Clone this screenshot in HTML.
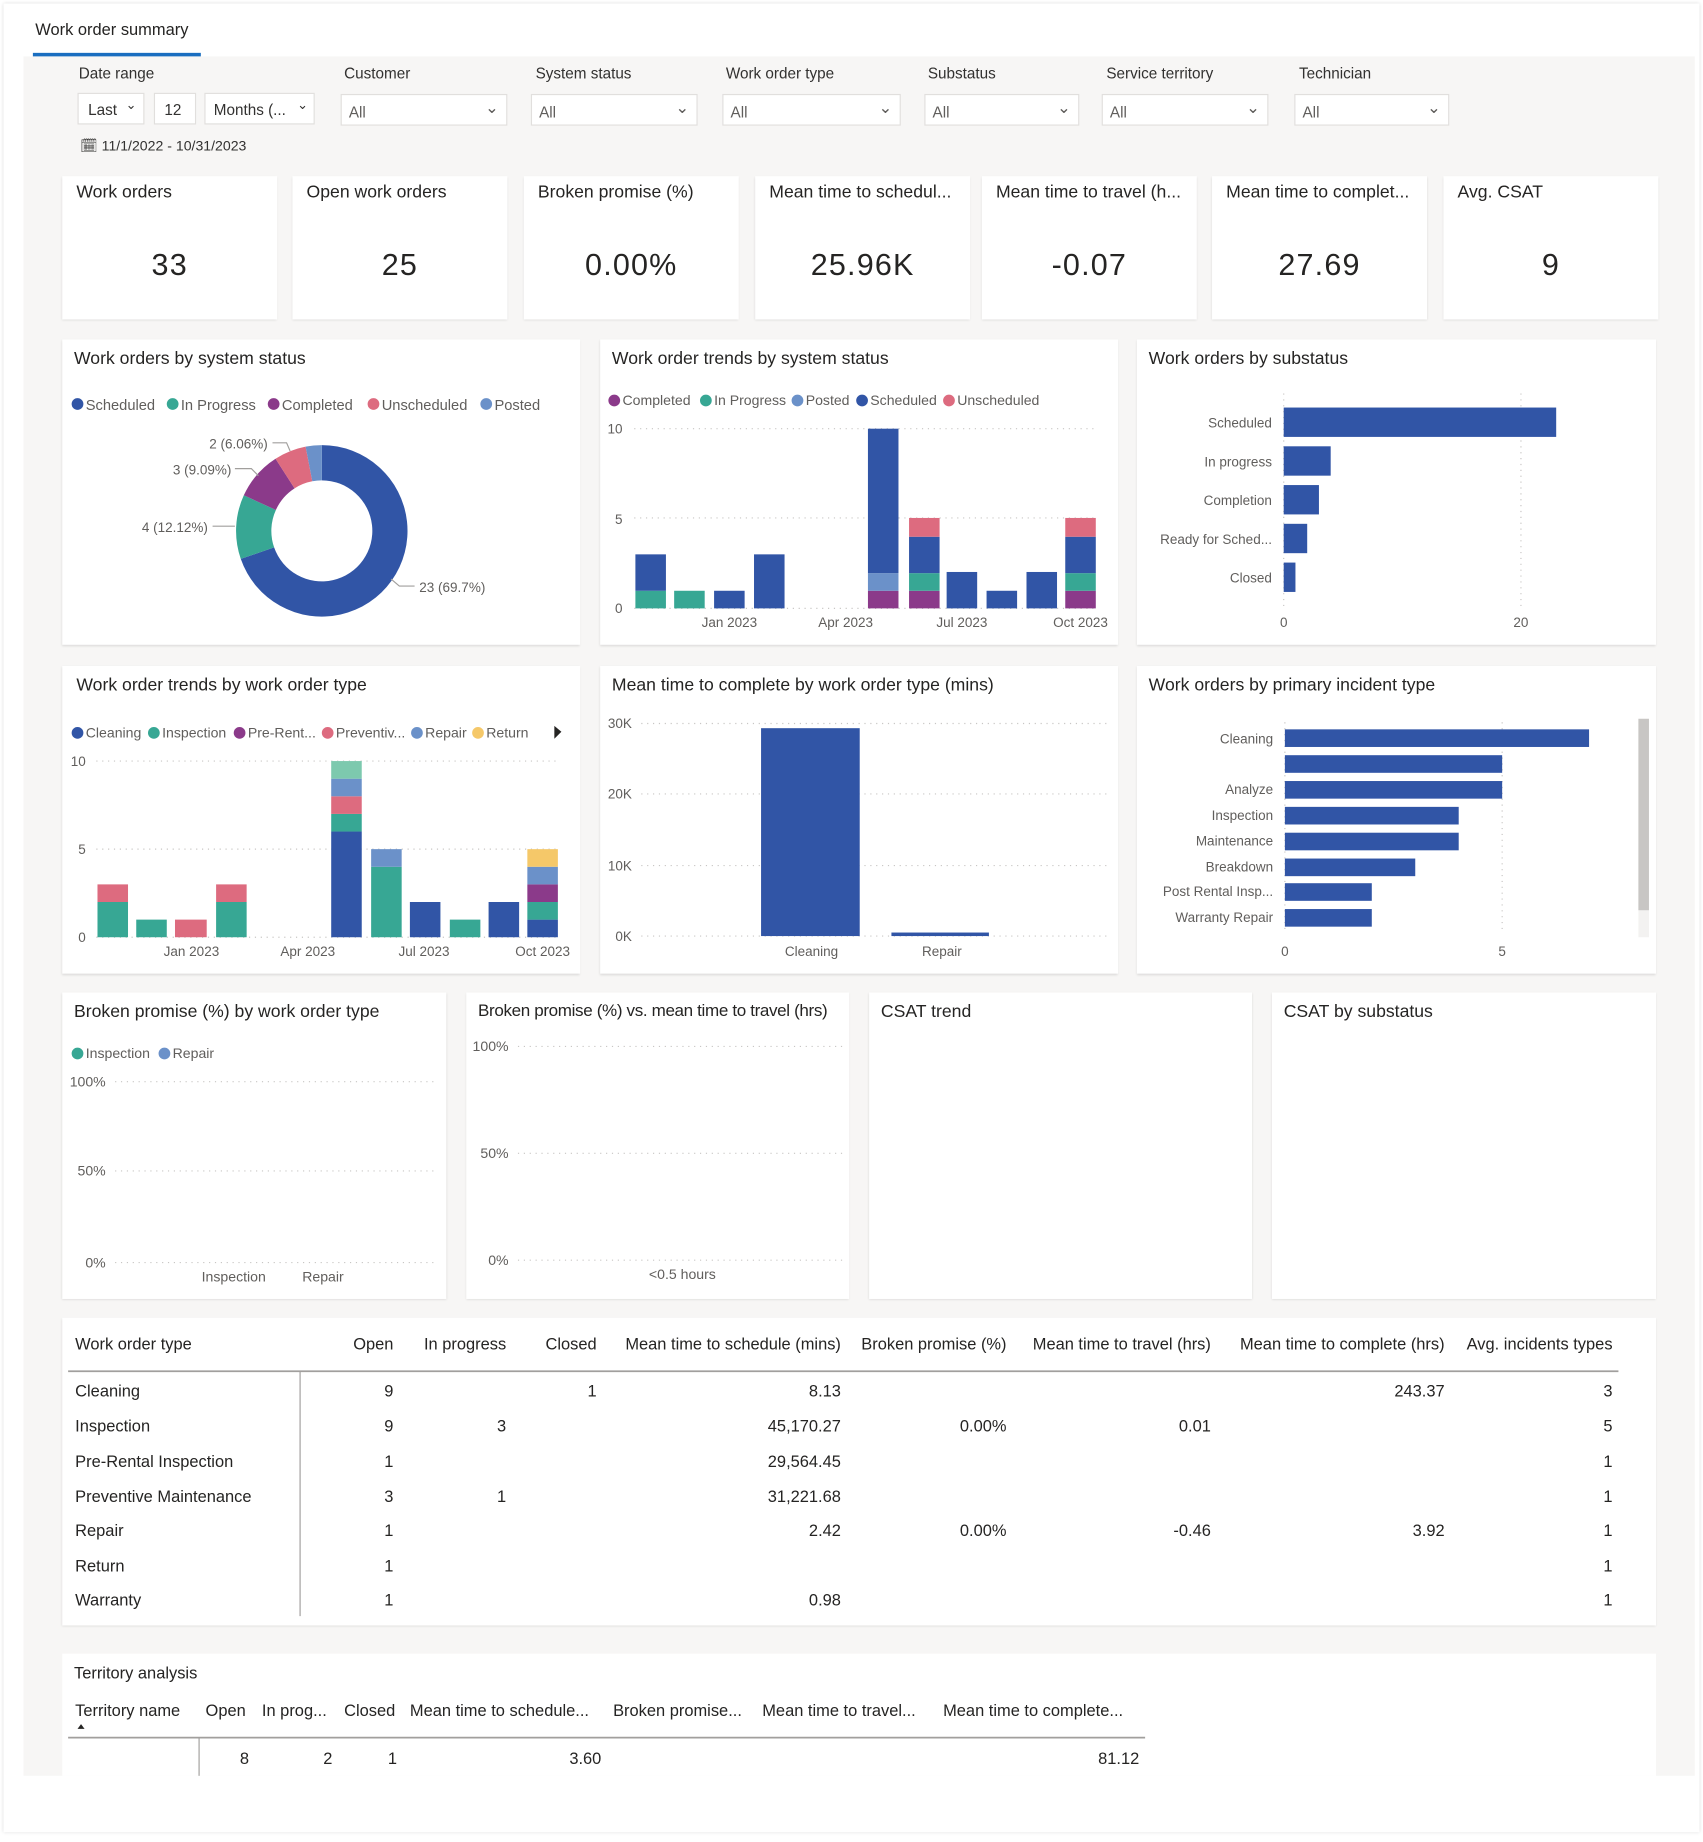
<!DOCTYPE html>
<html><head><meta charset="utf-8"><style>
html,body{margin:0;padding:0;width:1703px;height:1842px;overflow:hidden;background:#fff}
#w{position:absolute;left:0;top:0;width:1450px;height:1568px;transform:scale(1.17448);transform-origin:0 0;font-family:"Liberation Sans",sans-serif;color:#252423}
.a{position:absolute}
.card{position:absolute;background:#fff;box-shadow:0 1px 2px rgba(0,0,0,.12)}
.lab{position:absolute;font-size:13px;color:#323130}
.dd{position:absolute;height:27px;border:1px solid #e1dfdd;background:#fff;box-sizing:border-box;font-size:13px;color:#605e5c}
.kt{position:absolute;left:12px;top:5px;font-size:15px;color:#252423;white-space:nowrap}
.kv{position:absolute;left:0;right:0;top:60px;text-align:center;font-size:26px;color:#252423;letter-spacing:1px}
.ct{position:absolute;left:10px;top:8px;font-size:15px;color:#252423;white-space:nowrap}
</style></head><body><div id="w">
<div class="a" style="left:3px;top:3px;width:1444px;height:1557px;box-shadow:0 0 3px rgba(0,0,0,.15);background:#fff"></div>
<div class="a" style="left:20px;top:48px;width:1423px;height:1464px;background:#f7f6f5"></div>
<div class="a" style="left:30px;top:17px;font-size:14px;color:#252423">Work order summary</div>
<div class="a" style="left:28px;top:45px;width:143px;height:3px;background:#1a6ec0"></div>

<div class="lab" style="left:67px;top:55px">Date range</div>
<div class="dd" style="left:66px;top:79px;width:57px;color:#323130"><span class="a" style="left:8px;top:6px">Last</span><span class="a" style="left:40px;top:3px;font-size:11px">&#8964;</span></div>
<div class="dd" style="left:131px;top:79px;width:36px;color:#323130"><span class="a" style="left:8px;top:6px">12</span></div>
<div class="dd" style="left:174px;top:79px;width:94px;color:#323130"><span class="a" style="left:7px;top:6px">Months (...</span><span class="a" style="left:78px;top:3px;font-size:11px">&#8964;</span></div>
<div class="a" style="left:68px;top:117px;font-size:12px;color:#323130">&#128467; 11/1/2022 - 10/31/2023</div>

<div class="lab" style="left:293px;top:55px">Customer</div>
<div class="dd" style="left:290px;top:80px;width:142px"><span class="a" style="left:6px;top:7px">All</span><span class="a" style="left:122px;top:2px;font-size:14px">&#8964;</span></div>
<div class="lab" style="left:456px;top:55px">System status</div>
<div class="dd" style="left:452px;top:80px;width:142px"><span class="a" style="left:6px;top:7px">All</span><span class="a" style="left:122px;top:2px;font-size:14px">&#8964;</span></div>
<div class="lab" style="left:618px;top:55px">Work order type</div>
<div class="dd" style="left:615px;top:80px;width:152px"><span class="a" style="left:6px;top:7px">All</span><span class="a" style="left:132px;top:2px;font-size:14px">&#8964;</span></div>
<div class="lab" style="left:790px;top:55px">Substatus</div>
<div class="dd" style="left:787px;top:80px;width:132px"><span class="a" style="left:6px;top:7px">All</span><span class="a" style="left:112px;top:2px;font-size:14px">&#8964;</span></div>
<div class="lab" style="left:942px;top:55px">Service territory</div>
<div class="dd" style="left:938px;top:80px;width:142px"><span class="a" style="left:6px;top:7px">All</span><span class="a" style="left:122px;top:2px;font-size:14px">&#8964;</span></div>
<div class="lab" style="left:1106px;top:55px">Technician</div>
<div class="dd" style="left:1102px;top:80px;width:132px"><span class="a" style="left:6px;top:7px">All</span><span class="a" style="left:112px;top:2px;font-size:14px">&#8964;</span></div>

<div class="card" style="left:53px;top:150px;width:183px;height:122px"><div class="kt">Work orders</div><div class="kv">33</div></div>
<div class="card" style="left:249px;top:150px;width:183px;height:122px"><div class="kt">Open work orders</div><div class="kv">25</div></div>
<div class="card" style="left:446px;top:150px;width:183px;height:122px"><div class="kt">Broken promise (%)</div><div class="kv">0.00%</div></div>
<div class="card" style="left:643px;top:150px;width:183px;height:122px"><div class="kt">Mean time to schedul...</div><div class="kv">25.96K</div></div>
<div class="card" style="left:836px;top:150px;width:183px;height:122px"><div class="kt">Mean time to travel (h...</div><div class="kv">-0.07</div></div>
<div class="card" style="left:1032px;top:150px;width:183px;height:122px"><div class="kt">Mean time to complet...</div><div class="kv">27.69</div></div>
<div class="card" style="left:1229px;top:150px;width:183px;height:122px"><div class="kt">Avg. CSAT</div><div class="kv">9</div></div>

<div class="card" style="left:53px;top:289px;width:441px;height:260px"><div class="ct">Work orders by system status</div></div>
<div class="card" style="left:511px;top:289px;width:441px;height:260px"><div class="ct">Work order trends by system status</div></div>
<div class="card" style="left:968px;top:289px;width:442px;height:260px"><div class="ct">Work orders by substatus</div></div>
<div class="card" style="left:53px;top:567px;width:441px;height:262px"><div class="ct" style="left:12px">Work order trends by work order type</div></div>
<div class="card" style="left:511px;top:567px;width:441px;height:262px"><div class="ct">Mean time to complete by work order type (mins)</div></div>
<div class="card" style="left:968px;top:567px;width:442px;height:262px"><div class="ct">Work orders by primary incident type</div></div>
<div class="card" style="left:53px;top:845px;width:327px;height:261px"><div class="ct">Broken promise (%) by work order type</div></div>
<div class="card" style="left:397px;top:845px;width:326px;height:261px;overflow:hidden"><div class="ct" style="font-size:14.5px;letter-spacing:-0.3px">Broken promise (%) vs. mean time to travel (hrs)</div></div>
<div class="card" style="left:740px;top:845px;width:326px;height:261px"><div class="ct">CSAT trend</div></div>
<div class="card" style="left:1083px;top:845px;width:327px;height:261px"><div class="ct">CSAT by substatus</div></div>
<div class="card" style="left:53px;top:1122px;width:1357px;height:262px"></div>
<div class="card" style="left:53px;top:1408px;width:1357px;height:104px;box-shadow:none"></div>

<svg class="a" style="left:0;top:0" width="1450" height="1568" font-family="Liberation Sans, sans-serif">
<g font-size="12.5" fill="#605e5c">
<circle cx="66" cy="344" r="5" fill="#3155a6"/><text x="73" y="349">Scheduled</text>
<circle cx="147" cy="344" r="5" fill="#37a794"/><text x="154" y="349">In Progress</text>
<circle cx="233" cy="344" r="5" fill="#8b3a8a"/><text x="240" y="349">Completed</text>
<circle cx="318" cy="344" r="5" fill="#dd6b7f"/><text x="325" y="349">Unscheduled</text>
<circle cx="414" cy="344" r="5" fill="#6b91c9"/><text x="421" y="349">Posted</text>
</g>
<path d="M274,379 A73,73 0 1 1 205,475.9 L233.4,466.1 A43,43 0 1 0 274,409 Z" fill="#3155a6"/>
<path d="M205,475.9 A73,73 0 0 1 207.6,421.7 L234.9,434.2 A43,43 0 0 0 233.4,466.1 Z" fill="#37a794"/>
<path d="M207.6,421.7 A73,73 0 0 1 234.6,390.6 L250.8,415.8 A43,43 0 0 0 234.9,434.2 Z" fill="#8b3a8a"/>
<path d="M234.6,390.6 A73,73 0 0 1 260.2,380.3 L265.9,409.8 A43,43 0 0 0 250.8,415.8 Z" fill="#dd6b7f"/>
<path d="M260.2,380.3 A73,73 0 0 1 274,379 L274,409 A43,43 0 0 0 265.9,409.8 Z" fill="#6b91c9"/>
<g font-size="11.5" fill="#605e5c">
<text x="228" y="382" text-anchor="end">2 (6.06%)</text>
<text x="197" y="404" text-anchor="end">3 (9.09%)</text>
<text x="177" y="453" text-anchor="end">4 (12.12%)</text>
<text x="357" y="504">23 (69.7%)</text>
</g>
<g stroke="#a19f9d" fill="none" stroke-width="1">
<polyline points="232,377 244,377 247,384"/><polyline points="200,399 214,399 220,405"/><polyline points="181,448 200,448"/><polyline points="333,493 340,499 353,499"/>
</g>

<g font-size="12" fill="#605e5c">
<circle cx="523" cy="341" r="5" fill="#8b3a8a"/><text x="530" y="345">Completed</text>
<circle cx="601" cy="341" r="5" fill="#37a794"/><text x="608" y="345">In Progress</text>
<circle cx="679" cy="341" r="5" fill="#6b91c9"/><text x="686" y="345">Posted</text>
<circle cx="734" cy="341" r="5" fill="#3155a6"/><text x="741" y="345">Scheduled</text>
<circle cx="808" cy="341" r="5" fill="#dd6b7f"/><text x="815" y="345">Unscheduled</text>
</g>
<g font-size="11.5" fill="#605e5c">
<text x="530" y="369" text-anchor="end">10</text><text x="530" y="446" text-anchor="end">5</text><text x="530" y="522" text-anchor="end">0</text>
<text x="621" y="534" text-anchor="middle">Jan 2023</text><text x="720" y="534" text-anchor="middle">Apr 2023</text><text x="819" y="534" text-anchor="middle">Jul 2023</text><text x="920" y="534" text-anchor="middle">Oct 2023</text>
</g>
<g stroke="#c8c6c4" stroke-dasharray="1,4"><line x1="540" y1="365" x2="935" y2="365"/><line x1="540" y1="441" x2="935" y2="441"/><line x1="540" y1="518" x2="935" y2="518"/></g>
<g>
<rect x="541" y="503" width="26" height="15" fill="#37a794"/><rect x="541" y="472" width="26" height="31" fill="#3155a6"/>
<rect x="574" y="503" width="26" height="15" fill="#37a794"/>
<rect x="608" y="503" width="26" height="15" fill="#3155a6"/>
<rect x="642" y="472" width="26" height="46" fill="#3155a6"/>
<rect x="739" y="503" width="26" height="15" fill="#8b3a8a"/><rect x="739" y="488" width="26" height="15" fill="#6b91c9"/><rect x="739" y="365" width="26" height="123" fill="#3155a6"/>
<rect x="774" y="503" width="26" height="15" fill="#8b3a8a"/><rect x="774" y="488" width="26" height="15" fill="#37a794"/><rect x="774" y="457" width="26" height="31" fill="#3155a6"/><rect x="774" y="441" width="26" height="16" fill="#dd6b7f"/>
<rect x="806" y="487" width="26" height="31" fill="#3155a6"/>
<rect x="840" y="503" width="26" height="15" fill="#3155a6"/>
<rect x="874" y="487" width="26" height="31" fill="#3155a6"/>
<rect x="907" y="503" width="26" height="15" fill="#8b3a8a"/><rect x="907" y="488" width="26" height="15" fill="#37a794"/><rect x="907" y="457" width="26" height="31" fill="#3155a6"/><rect x="907" y="441" width="26" height="16" fill="#dd6b7f"/>
</g>

<g stroke="#c8c6c4" stroke-dasharray="1,4"><line x1="1093" y1="335" x2="1093" y2="520"/><line x1="1295" y1="335" x2="1295" y2="520"/></g>
<g font-size="11.5" fill="#605e5c" text-anchor="end">
<text x="1083" y="364">Scheduled</text><text x="1083" y="397">In progress</text><text x="1083" y="430">Completion</text><text x="1083" y="463">Ready for Sched...</text><text x="1083" y="496">Closed</text>
</g>
<g fill="#3155a6">
<rect x="1093" y="347" width="232" height="25"/><rect x="1093" y="380" width="40" height="25"/><rect x="1093" y="413" width="30" height="25"/><rect x="1093" y="446" width="20" height="25"/><rect x="1093" y="479" width="10" height="25"/>
</g>
<g font-size="11.5" fill="#605e5c" text-anchor="middle"><text x="1093" y="534">0</text><text x="1295" y="534">20</text></g>

<g font-size="12" fill="#605e5c">
<circle cx="66" cy="624" r="5" fill="#3155a6"/><text x="73" y="628">Cleaning</text>
<circle cx="131" cy="624" r="5" fill="#37a794"/><text x="138" y="628">Inspection</text>
<circle cx="204" cy="624" r="5" fill="#8b3a8a"/><text x="211" y="628">Pre-Rent...</text>
<circle cx="279" cy="624" r="5" fill="#dd6b7f"/><text x="286" y="628">Preventiv...</text>
<circle cx="355" cy="624" r="5" fill="#6b91c9"/><text x="362" y="628">Repair</text>
<circle cx="407" cy="624" r="5" fill="#f5c869"/><text x="414" y="628">Return</text>
<path d="M472,618 L478,623 L472,629 Z" fill="#252423"/>
</g>
<g font-size="11.5" fill="#605e5c">
<text x="73" y="652" text-anchor="end">10</text><text x="73" y="727" text-anchor="end">5</text><text x="73" y="802" text-anchor="end">0</text>
<text x="163" y="814" text-anchor="middle">Jan 2023</text><text x="262" y="814" text-anchor="middle">Apr 2023</text><text x="361" y="814" text-anchor="middle">Jul 2023</text><text x="462" y="814" text-anchor="middle">Oct 2023</text>
</g>
<g stroke="#c8c6c4" stroke-dasharray="1,4"><line x1="82" y1="648" x2="475" y2="648"/><line x1="82" y1="723" x2="475" y2="723"/><line x1="82" y1="798" x2="475" y2="798"/></g>
<g>
<rect x="83" y="768" width="26" height="30" fill="#37a794"/><rect x="83" y="753" width="26" height="15" fill="#dd6b7f"/>
<rect x="116" y="783" width="26" height="15" fill="#37a794"/>
<rect x="149" y="783" width="27" height="15" fill="#dd6b7f"/>
<rect x="184" y="768" width="26" height="30" fill="#37a794"/><rect x="184" y="753" width="26" height="15" fill="#dd6b7f"/>
<rect x="282" y="708" width="26" height="90" fill="#3155a6"/><rect x="282" y="693" width="26" height="15" fill="#37a794"/><rect x="282" y="678" width="26" height="15" fill="#dd6b7f"/><rect x="282" y="663" width="26" height="15" fill="#6b91c9"/><rect x="282" y="648" width="26" height="15" fill="#7dc9ae"/>
<rect x="316" y="738" width="26" height="60" fill="#37a794"/><rect x="316" y="723" width="26" height="15" fill="#6b91c9"/>
<rect x="349" y="768" width="26" height="30" fill="#3155a6"/>
<rect x="383" y="783" width="26" height="15" fill="#37a794"/>
<rect x="416" y="768" width="26" height="30" fill="#3155a6"/>
<rect x="449" y="783" width="26" height="15" fill="#3155a6"/><rect x="449" y="768" width="26" height="15" fill="#37a794"/><rect x="449" y="753" width="26" height="15" fill="#8b3a8a"/><rect x="449" y="738" width="26" height="15" fill="#6b91c9"/><rect x="449" y="723" width="26" height="15" fill="#f5c869"/>
</g>

<g font-size="11.5" fill="#605e5c">
<text x="538" y="620" text-anchor="end">30K</text><text x="538" y="680" text-anchor="end">20K</text><text x="538" y="741" text-anchor="end">10K</text><text x="538" y="801" text-anchor="end">0K</text>
<text x="691" y="814" text-anchor="middle">Cleaning</text><text x="802" y="814" text-anchor="middle">Repair</text>
</g>
<g stroke="#c8c6c4" stroke-dasharray="1,4"><line x1="546" y1="616" x2="945" y2="616"/><line x1="546" y1="676" x2="945" y2="676"/><line x1="546" y1="737" x2="945" y2="737"/><line x1="546" y1="797" x2="945" y2="797"/></g>
<rect x="648" y="620" width="84" height="177" fill="#3155a6"/><rect x="759" y="794" width="83" height="3" fill="#3155a6"/>

<g stroke="#c8c6c4" stroke-dasharray="1,4"><line x1="1094" y1="615" x2="1094" y2="795"/><line x1="1279" y1="615" x2="1279" y2="795"/></g>
<g font-size="11.5" fill="#605e5c" text-anchor="end">
<text x="1084" y="633">Cleaning</text><text x="1084" y="676">Analyze</text><text x="1084" y="698">Inspection</text><text x="1084" y="720">Maintenance</text><text x="1084" y="742">Breakdown</text><text x="1084" y="763">Post Rental Insp...</text><text x="1084" y="785">Warranty Repair</text>
</g>
<g fill="#3155a6">
<rect x="1094" y="621" width="259" height="15"/><rect x="1094" y="643" width="185" height="15"/><rect x="1094" y="665" width="185" height="15"/><rect x="1094" y="687" width="148" height="15"/><rect x="1094" y="709" width="148" height="15"/><rect x="1094" y="731" width="111" height="15"/><rect x="1094" y="752" width="74" height="15"/><rect x="1094" y="774" width="74" height="15"/>
</g>
<rect x="1395" y="612" width="9" height="186" fill="#f3f2f1"/><rect x="1395" y="612" width="9" height="163" fill="#c8c6c4"/>
<g font-size="11.5" fill="#605e5c" text-anchor="middle"><text x="1094" y="814">0</text><text x="1279" y="814">5</text></g>

<g font-size="12" fill="#605e5c">
<circle cx="66" cy="897" r="5" fill="#37a794"/><text x="73" y="901">Inspection</text>
<circle cx="140" cy="897" r="5" fill="#6b91c9"/><text x="147" y="901">Repair</text>
<text x="90" y="925" text-anchor="end">100%</text><text x="90" y="1001" text-anchor="end">50%</text><text x="90" y="1079" text-anchor="end">0%</text>
<text x="199" y="1091" text-anchor="middle">Inspection</text><text x="275" y="1091" text-anchor="middle">Repair</text>
<text x="433" y="895" text-anchor="end">100%</text><text x="433" y="986" text-anchor="end">50%</text><text x="433" y="1077" text-anchor="end">0%</text>
<text x="581" y="1089" text-anchor="middle">&lt;0.5 hours</text>
</g>
<g stroke="#c8c6c4" stroke-dasharray="1,4"><line x1="98" y1="921" x2="372" y2="921"/><line x1="98" y1="997" x2="372" y2="997"/><line x1="98" y1="1075" x2="372" y2="1075"/>
<line x1="441" y1="891" x2="718" y2="891"/><line x1="441" y1="982" x2="718" y2="982"/><line x1="441" y1="1073" x2="718" y2="1073"/></g>

<g font-size="14" fill="#252423">
<text x="64" y="1149">Work order type</text>
<g text-anchor="end"><text x="335" y="1149">Open</text><text x="431" y="1149">In progress</text><text x="508" y="1149">Closed</text><text x="716" y="1149">Mean time to schedule (mins)</text><text x="857" y="1149">Broken promise (%)</text><text x="1031" y="1149">Mean time to travel (hrs)</text><text x="1230" y="1149">Mean time to complete (hrs)</text><text x="1373" y="1149">Avg. incidents types</text></g>
<text x="64" y="1189">Cleaning</text><text x="64" y="1219">Inspection</text><text x="64" y="1249">Pre-Rental Inspection</text><text x="64" y="1279">Preventive Maintenance</text><text x="64" y="1308">Repair</text><text x="64" y="1338">Return</text><text x="64" y="1367">Warranty</text>
<g text-anchor="end">
<text x="335" y="1189">9</text><text x="508" y="1189">1</text><text x="716" y="1189">8.13</text><text x="1230" y="1189">243.37</text><text x="1373" y="1189">3</text>
<text x="335" y="1219">9</text><text x="431" y="1219">3</text><text x="716" y="1219">45,170.27</text><text x="857" y="1219">0.00%</text><text x="1031" y="1219">0.01</text><text x="1373" y="1219">5</text>
<text x="335" y="1249">1</text><text x="716" y="1249">29,564.45</text><text x="1373" y="1249">1</text>
<text x="335" y="1279">3</text><text x="431" y="1279">1</text><text x="716" y="1279">31,221.68</text><text x="1373" y="1279">1</text>
<text x="335" y="1308">1</text><text x="716" y="1308">2.42</text><text x="857" y="1308">0.00%</text><text x="1031" y="1308">-0.46</text><text x="1230" y="1308">3.92</text><text x="1373" y="1308">1</text>
<text x="335" y="1338">1</text><text x="1373" y="1338">1</text>
<text x="335" y="1367">1</text><text x="716" y="1367">0.98</text><text x="1373" y="1367">1</text>
</g>
</g>
<line x1="58" y1="1167.5" x2="1378" y2="1167.5" stroke="#a19f9d" stroke-width="1.5"/>
<line x1="255.5" y1="1168" x2="255.5" y2="1376" stroke="#a19f9d"/>

<g font-size="14" fill="#252423">
<text x="63" y="1429">Territory analysis</text>
<text x="64" y="1461">Territory name</text><text x="175" y="1461">Open</text><text x="223" y="1461">In prog...</text><text x="293" y="1461">Closed</text><text x="349" y="1461">Mean time to schedule...</text><text x="522" y="1461">Broken promise...</text><text x="649" y="1461">Mean time to travel...</text><text x="803" y="1461">Mean time to complete...</text>
<g text-anchor="end"><text x="212" y="1502">8</text><text x="283" y="1502">2</text><text x="338" y="1502">1</text><text x="512" y="1502">3.60</text><text x="970" y="1502">81.12</text></g>
</g>
<path d="M66,1472 L69,1468 L72,1472 Z" fill="#252423"/>
<line x1="58" y1="1479.5" x2="975" y2="1479.5" stroke="#a19f9d" stroke-width="1.5"/>
<line x1="169.5" y1="1480" x2="169.5" y2="1512" stroke="#a19f9d"/>
</svg>
</div></body></html>
